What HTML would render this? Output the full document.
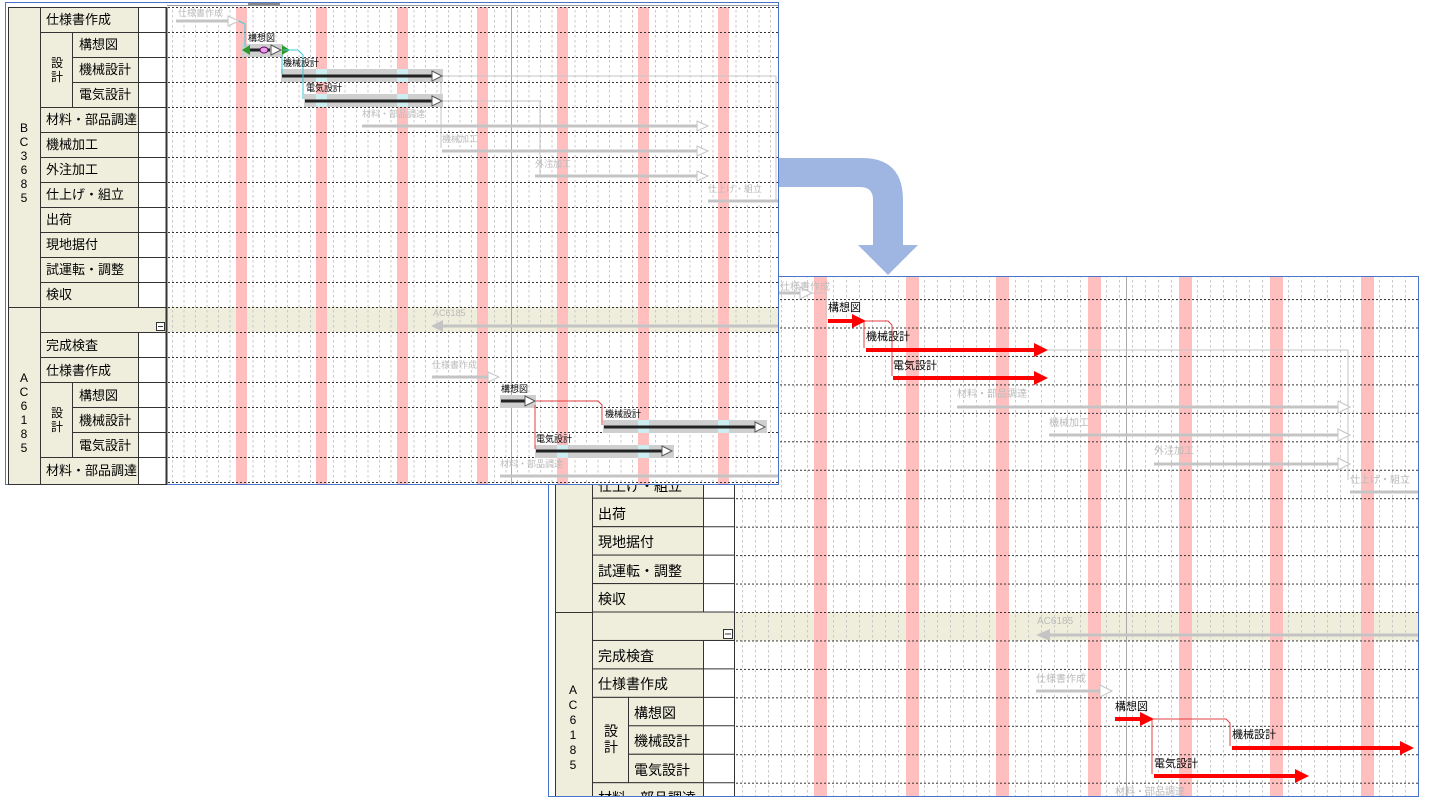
<!DOCTYPE html>
<html><head><meta charset="utf-8"><style>
html,body{margin:0;padding:0;background:#fff;width:1430px;height:805px;overflow:hidden}
svg{display:block}
text{font-family:"Liberation Sans","Noto Sans CJK JP",sans-serif}
</style></head><body>
<svg width="1430" height="805" viewBox="0 0 1430 805" xmlns="http://www.w3.org/2000/svg">
<defs>
<pattern id="lv" patternUnits="userSpaceOnUse" x="11" y="0" width="11.5" height="5"><line x1="0.5" y1="0" x2="0.5" y2="2.5" stroke="#c8c8c8" stroke-width="1"/></pattern>
<pattern id="lh" patternUnits="userSpaceOnUse" x="0" y="7" width="4" height="25"><line x1="0" y1="0.5" x2="2" y2="0.5" stroke="#333" stroke-width="1"/></pattern>
<pattern id="rv" patternUnits="userSpaceOnUse" x="1" y="0" width="13" height="5"><line x1="0.5" y1="0" x2="0.5" y2="2.5" stroke="#c8c8c8" stroke-width="1"/></pattern>
<pattern id="rh" patternUnits="userSpaceOnUse" x="0" y="270.6" width="4" height="28.45"><line x1="0" y1="0.5" x2="2" y2="0.5" stroke="#333" stroke-width="1"/></pattern>
<clipPath id="rc"><rect x="735" y="277" width="683" height="519"/></clipPath>
<clipPath id="rl"><rect x="549" y="277" width="186" height="519"/></clipPath>
<clipPath id="lc"><rect x="167" y="7" width="611" height="477"/></clipPath>
</defs>

<!-- ================= RIGHT PANEL ================= -->
<rect x="548.5" y="276.5" width="870" height="520" fill="#fff" stroke="#4a74c9"/>
<g clip-path="url(#rc)">
  <rect x="735" y="612" width="683" height="28.5" fill="#efeedd"/>
  <rect x="735" y="277" width="683" height="519" fill="url(#rv)"/>
  <g fill="#ffbfbf">
    <rect x="814" y="277" width="13" height="519"/><rect x="906" y="277" width="13" height="519"/>
    <rect x="996" y="277" width="13" height="519"/><rect x="1088" y="277" width="13" height="519"/>
    <rect x="1179" y="277" width="13" height="519"/><rect x="1270" y="277" width="13" height="519"/>
    <rect x="1361" y="277" width="13" height="519"/>
  </g>
  <line x1="1126.5" y1="277" x2="1126.5" y2="796" stroke="#aaa"/>
  <rect x="735" y="277" width="683" height="519" fill="url(#rh)"/>
  <g stroke="#c4c4c4" fill="none">
    <line x1="740" y1="293" x2="800" y2="293" stroke-width="3"/>
    <polyline points="812,293 826,293 826,318" stroke-width="1"/>
    <line x1="957" y1="407" x2="1338" y2="407" stroke-width="3"/>
    <line x1="1049" y1="435" x2="1338" y2="435" stroke-width="3"/>
    <line x1="1154" y1="464" x2="1338" y2="464" stroke-width="3"/>
    <line x1="1350" y1="492" x2="1418" y2="492" stroke-width="3"/>
    <polyline points="1047,350 1348,350 1348,480" stroke-width="1"/>
    <line x1="1050" y1="635" x2="1418" y2="635" stroke-width="3"/>
    <line x1="1036" y1="691" x2="1100" y2="691" stroke-width="3"/>
  </g>
  <g fill="#fff" stroke="#c4c4c4">
    <polygon points="800,287 812,293 800,299"/>
    <polygon points="1338,401 1350,407 1338,413"/>
    <polygon points="1338,429 1350,435 1338,441"/>
    <polygon points="1338,458 1350,464 1338,470"/>
    <polygon points="1100,685 1112,691 1100,697"/>
  </g>
  <polygon points="1050,629 1036,635 1050,641" fill="#c4c4c4"/>
  <g font-size="10" fill="#bbb">
    <text x="780" y="290">仕様書作成</text>
    <text x="957" y="397">材料・部品調達</text>
    <text x="1049" y="426">機械加工</text>
    <text x="1154" y="454">外注加工</text>
    <text x="1350" y="483">仕上げ・組立</text>
    <text x="1037" y="624">AC6185</text>
    <text x="1036" y="682">仕様書作成</text>
    <text x="1115" y="795">材料・部品調達</text>
  </g>
  <g stroke="#e04040" fill="none" stroke-width="1">
    <polyline points="852,321 888,321 892,325 892,376"/>
    <line x1="864" y1="321" x2="864" y2="348"/>
    <polyline points="1140,719 1226,719 1230,723 1230,746"/>
    <line x1="1152" y1="719" x2="1152" y2="774"/>
  </g>
  <g stroke="#ff0000" stroke-width="4">
    <line x1="828" y1="321" x2="853" y2="321"/>
    <line x1="866" y1="350" x2="1035" y2="350"/>
    <line x1="893" y1="378" x2="1035" y2="378"/>
    <line x1="1115" y1="719" x2="1141" y2="719"/>
    <line x1="1232" y1="748" x2="1401" y2="748"/>
    <line x1="1154" y1="776" x2="1296" y2="776"/>
  </g>
  <g fill="#ff0000">
    <polygon points="852,314 866,321 852,328"/>
    <polygon points="1034,343 1048,350 1034,357"/>
    <polygon points="1034,371 1048,378 1034,385"/>
    <polygon points="1140,712 1154,719 1140,726"/>
    <polygon points="1400,741 1414,748 1400,755"/>
    <polygon points="1295,769 1309,776 1295,783"/>
  </g>
  <g font-size="11" fill="#000">
    <text x="828" y="311">構想図</text>
    <text x="866" y="340">機械設計</text>
    <text x="893" y="369">電気設計</text>
    <text x="1115" y="710">構想図</text>
    <text x="1232" y="738">機械設計</text>
    <text x="1154" y="767">電気設計</text>
  </g>
</g>
<g clip-path="url(#rl)">
<g stroke="#333" stroke-width="1">
  <rect x="555.5" y="440" width="37" height="172.5" fill="#efeedd"/>
  <rect x="555.5" y="612.5" width="37" height="200" fill="#efeedd"/>
  <rect x="592.5" y="469.8" width="111" height="28.45" fill="#efeedd"/>
  <rect x="592.5" y="498.2" width="111" height="28.45" fill="#efeedd"/>
  <rect x="592.5" y="526.7" width="111" height="28.45" fill="#efeedd"/>
  <rect x="592.5" y="555.1" width="111" height="28.45" fill="#efeedd"/>
  <rect x="592.5" y="583.6" width="111" height="28.45" fill="#efeedd"/>
  <rect x="592.5" y="612.0" width="142" height="28.45" fill="#efeedd"/>
  <rect x="592.5" y="640.5" width="111" height="28.45" fill="#efeedd"/>
  <rect x="592.5" y="668.9" width="111" height="28.45" fill="#efeedd"/>
  <rect x="592.5" y="697.4" width="36" height="85.3" fill="#efeedd"/>
  <rect x="628.5" y="697.4" width="75" height="28.45" fill="#efeedd"/>
  <rect x="628.5" y="725.8" width="75" height="28.45" fill="#efeedd"/>
  <rect x="628.5" y="754.3" width="75" height="28.45" fill="#efeedd"/>
  <rect x="592.5" y="782.7" width="111" height="28.45" fill="#efeedd"/>
  <rect x="703.5" y="469.8" width="31" height="142.2" fill="#fff"/>
  <rect x="703.5" y="640.5" width="31" height="170" fill="#fff"/>
  <line x1="703.5" y1="498.2" x2="734.5" y2="498.2"/><line x1="703.5" y1="526.7" x2="734.5" y2="526.7"/>
  <line x1="703.5" y1="555.1" x2="734.5" y2="555.1"/><line x1="703.5" y1="583.6" x2="734.5" y2="583.6"/>
  <line x1="703.5" y1="668.9" x2="734.5" y2="668.9"/><line x1="703.5" y1="697.4" x2="734.5" y2="697.4"/>
  <line x1="703.5" y1="725.8" x2="734.5" y2="725.8"/><line x1="703.5" y1="754.3" x2="734.5" y2="754.3"/>
  <line x1="703.5" y1="782.7" x2="734.5" y2="782.7"/>
</g>
<rect x="723.5" y="629.5" width="9" height="9" fill="#fff" stroke="#333"/>
<line x1="725" y1="634" x2="731" y2="634" stroke="#333"/>
<g font-size="14" fill="#000">
  <text x="598" y="491">仕上げ・組立</text>
  <text x="598" y="519">出荷</text>
  <text x="598" y="547">現地据付</text>
  <text x="598" y="576">試運転・調整</text>
  <text x="598" y="604">検収</text>
  <text x="598" y="661">完成検査</text>
  <text x="598" y="689">仕様書作成</text>
  <text x="634" y="718">構想図</text>
  <text x="634" y="746">機械設計</text>
  <text x="634" y="775">電気設計</text>
  <text x="598" y="803">材料・部品調達</text>
  <text x="604" y="736">設</text><text x="604" y="752">計</text>
</g>
<g font-size="12" fill="#000" text-anchor="middle">
  <text x="573" y="694">A</text><text x="573" y="709">C</text><text x="573" y="724">6</text>
  <text x="573" y="739">1</text><text x="573" y="754">8</text><text x="573" y="769">5</text>
</g>
</g>
<line x1="548" y1="796.5" x2="1419" y2="796.5" stroke="#4a74c9"/>

<!-- ================= BLUE ARROW ================= -->
<path d="M779,158 L862,158 Q903,158 903,200 L903,245 L918,245 L888,275 L858,245 L873,245 L873,200 Q873,187 860,187 L779,187 Z" fill="#9fb6e2"/>

<!-- ================= LEFT PANEL ================= -->
<rect x="5.5" y="2.5" width="773" height="482" fill="#fff" stroke="#4a74c9"/>
<line x1="167" y1="5.5" x2="778" y2="5.5" stroke="#999"/>
<rect x="248" y="3" width="32" height="3" fill="#888"/>
<g clip-path="url(#lc)">
  <rect x="167" y="307" width="611" height="25" fill="#efeedd"/>
  <rect x="167" y="7" width="611" height="477" fill="url(#lv)"/>
  <g fill="#ffbfbf">
    <rect x="236" y="7" width="11" height="477"/><rect x="316" y="7" width="11" height="477"/>
    <rect x="397" y="7" width="11" height="477"/><rect x="477" y="7" width="11" height="477"/>
    <rect x="557" y="7" width="11" height="477"/><rect x="638" y="7" width="11" height="477"/>
    <rect x="718" y="7" width="11" height="477"/>
  </g>
  <line x1="511.5" y1="7" x2="511.5" y2="484" stroke="#aaa"/>
  <rect x="167" y="7" width="611" height="477" fill="url(#lh)"/>
  <g stroke="#c4c4c4" fill="none">
    <line x1="176" y1="21" x2="228" y2="21" stroke-width="3"/>
    <line x1="362" y1="126" x2="698" y2="126" stroke-width="3"/>
    <line x1="442" y1="151" x2="698" y2="151" stroke-width="3"/>
    <line x1="535" y1="176" x2="698" y2="176" stroke-width="3"/>
    <line x1="708" y1="201" x2="778" y2="201" stroke-width="3"/>
    <polyline points="441,76 776,76 776,200" stroke-width="1"/>
    <polyline points="441,101 540,101 540,175" stroke-width="1"/>
    <line x1="442" y1="326" x2="778" y2="326" stroke-width="3"/>
    <line x1="432" y1="377" x2="488" y2="377" stroke-width="3"/>
    <line x1="500" y1="476" x2="778" y2="476" stroke-width="3"/>
    <polyline points="441,82 441,148" stroke-width="1"/>
  </g>
  <g fill="#fff" stroke="#c4c4c4">
    <polygon points="228,16 239,21 228,26"/>
    <polygon points="697,121 708,126 697,131"/>
    <polygon points="697,146 708,151 697,156"/>
    <polygon points="697,171 708,176 697,181"/>
    <polygon points="488,372 499,377 488,382"/>
  </g>
  <polygon points="443,320 431,326 443,332" fill="#c4c4c4"/>
  <g font-size="9" fill="#bbb">
    <text x="178" y="16">仕様書作成</text>
    <text x="362" y="117">材料・部品調達</text>
    <text x="442" y="142">機械加工</text>
    <text x="535" y="167">外注加工</text>
    <text x="708" y="192">仕上げ・組立</text>
    <text x="433" y="316">AC6185</text>
    <text x="432" y="368">仕様書作成</text>
    <text x="500" y="467">材料・部品調達</text>
  </g>
  <g fill="#cfcfcf">
    <rect x="241" y="44" width="42" height="13"/>
    <rect x="281" y="69" width="162" height="13"/>
    <rect x="304" y="94" width="139" height="13"/>
    <rect x="500" y="395" width="36" height="13"/>
    <rect x="603" y="420" width="164" height="13"/>
    <rect x="535" y="445" width="139" height="13"/>
  </g>
  <g fill="#cdeef0">
    <rect x="316" y="69" width="11" height="13"/><rect x="397" y="69" width="11" height="13"/>
    <rect x="316" y="94" width="11" height="13"/><rect x="397" y="94" width="11" height="13"/>
    <rect x="638" y="420" width="11" height="13"/><rect x="718" y="420" width="11" height="13"/>
    <rect x="557" y="445" width="11" height="13"/><rect x="638" y="445" width="11" height="13"/>
  </g>
  <g stroke="#222" stroke-width="3">
    <line x1="246" y1="50" x2="270" y2="50"/>
    <line x1="282" y1="76" x2="432" y2="76"/>
    <line x1="305" y1="101" x2="432" y2="101"/>
    <line x1="501" y1="401" x2="525" y2="401"/>
    <line x1="604" y1="427" x2="755" y2="427"/>
    <line x1="536" y1="451" x2="662" y2="451"/>
  </g>
  <g fill="#fff" stroke="#555">
    <polygon points="271,45 281,50 271,55"/>
    <polygon points="432,71 442,76 432,81"/>
    <polygon points="432,96 442,101 432,106"/>
    <polygon points="525,396 535,401 525,406"/>
    <polygon points="755,422 765,427 755,432"/>
    <polygon points="662,446 672,451 662,456"/>
  </g>
  <ellipse cx="264" cy="50" rx="4" ry="3" fill="#e8a0e8" stroke="#606"/>
  <polygon points="242,50 250,45 250,55" fill="#2a9a2a"/>
  <polygon points="290,50 282,45 282,55" fill="#2a9a2a"/>
  <g stroke="#3cc8d8" fill="none">
    <polyline points="239,21 245,24 245,47"/>
    <polyline points="283,50 298,50 303,55 303,99"/>
    <line x1="282" y1="55" x2="282" y2="74"/>
  </g>
  <g stroke="#e04040" fill="none">
    <polyline points="535,401 598,401 602,405 602,425"/>
    <line x1="535" y1="405" x2="535" y2="449"/>
  </g>
  <g font-size="9" fill="#000">
    <text x="248" y="41">構想図</text>
    <text x="283" y="66">機械設計</text>
    <text x="306" y="91">電気設計</text>
    <text x="501" y="392">構想図</text>
    <text x="605" y="417">機械設計</text>
    <text x="536" y="442">電気設計</text>
  </g>
</g>
<g stroke="#333" stroke-width="1">
  <rect x="8.5" y="7.5" width="32" height="300" fill="#efeedd"/>
  <rect x="8.5" y="307.5" width="32" height="177" fill="#efeedd"/>
  <rect x="40.5" y="7.5" width="98" height="25" fill="#efeedd"/>
  <rect x="40.5" y="32.5" width="32" height="75" fill="#efeedd"/>
  <rect x="72.5" y="32.5" width="66" height="25" fill="#efeedd"/>
  <rect x="72.5" y="57.5" width="66" height="25" fill="#efeedd"/>
  <rect x="72.5" y="82.5" width="66" height="25" fill="#efeedd"/>
  <rect x="40.5" y="107.5" width="98" height="25" fill="#efeedd"/>
  <rect x="40.5" y="132.5" width="98" height="25" fill="#efeedd"/>
  <rect x="40.5" y="157.5" width="98" height="25" fill="#efeedd"/>
  <rect x="40.5" y="182.5" width="98" height="25" fill="#efeedd"/>
  <rect x="40.5" y="207.5" width="98" height="25" fill="#efeedd"/>
  <rect x="40.5" y="232.5" width="98" height="25" fill="#efeedd"/>
  <rect x="40.5" y="257.5" width="98" height="25" fill="#efeedd"/>
  <rect x="40.5" y="282.5" width="98" height="25" fill="#efeedd"/>
  <rect x="40.5" y="307.5" width="126" height="25" fill="#efeedd"/>
  <rect x="40.5" y="332.5" width="98" height="25" fill="#efeedd"/>
  <rect x="40.5" y="357.5" width="98" height="25" fill="#efeedd"/>
  <rect x="40.5" y="382.5" width="32" height="75" fill="#efeedd"/>
  <rect x="72.5" y="382.5" width="66" height="25" fill="#efeedd"/>
  <rect x="72.5" y="407.5" width="66" height="25" fill="#efeedd"/>
  <rect x="72.5" y="432.5" width="66" height="25" fill="#efeedd"/>
  <rect x="40.5" y="457.5" width="98" height="27" fill="#efeedd"/>
  <rect x="138.5" y="7.5" width="28" height="300" fill="#fff"/>
  <rect x="138.5" y="332.5" width="28" height="152" fill="#fff"/>
  <line x1="138.5" y1="32.5" x2="166.5" y2="32.5"/><line x1="138.5" y1="57.5" x2="166.5" y2="57.5"/>
  <line x1="138.5" y1="82.5" x2="166.5" y2="82.5"/><line x1="138.5" y1="107.5" x2="166.5" y2="107.5"/>
  <line x1="138.5" y1="132.5" x2="166.5" y2="132.5"/><line x1="138.5" y1="157.5" x2="166.5" y2="157.5"/>
  <line x1="138.5" y1="182.5" x2="166.5" y2="182.5"/><line x1="138.5" y1="207.5" x2="166.5" y2="207.5"/>
  <line x1="138.5" y1="232.5" x2="166.5" y2="232.5"/><line x1="138.5" y1="257.5" x2="166.5" y2="257.5"/>
  <line x1="138.5" y1="282.5" x2="166.5" y2="282.5"/>
  <line x1="138.5" y1="357.5" x2="166.5" y2="357.5"/><line x1="138.5" y1="382.5" x2="166.5" y2="382.5"/>
  <line x1="138.5" y1="407.5" x2="166.5" y2="407.5"/><line x1="138.5" y1="432.5" x2="166.5" y2="432.5"/>
  <line x1="138.5" y1="457.5" x2="166.5" y2="457.5"/>
  <line x1="166.5" y1="7" x2="166.5" y2="484" stroke-width="2"/>
</g>
<rect x="156.5" y="322.5" width="8" height="8" fill="#fff" stroke="#333"/>
<line x1="158" y1="326.5" x2="163" y2="326.5" stroke="#333"/>
<g font-size="13" fill="#000">
  <text x="46" y="24">仕様書作成</text>
  <text x="79" y="49">構想図</text>
  <text x="79" y="74">機械設計</text>
  <text x="79" y="99">電気設計</text>
  <text x="46" y="124">材料・部品調達</text>
  <text x="46" y="149">機械加工</text>
  <text x="46" y="174">外注加工</text>
  <text x="46" y="199">仕上げ・組立</text>
  <text x="46" y="224">出荷</text>
  <text x="46" y="249">現地据付</text>
  <text x="46" y="274">試運転・調整</text>
  <text x="46" y="299">検収</text>
  <text x="46" y="350">完成検査</text>
  <text x="46" y="375">仕様書作成</text>
  <text x="79" y="400">構想図</text>
  <text x="79" y="425">機械設計</text>
  <text x="79" y="450">電気設計</text>
  <text x="46" y="475">材料・部品調達</text>
</g>
<g font-size="12" fill="#000">
  <text x="51" y="67">設</text><text x="51" y="81">計</text>
  <text x="51" y="417">設</text><text x="51" y="431">計</text>
</g>
<g font-size="12" fill="#000" text-anchor="middle">
  <text x="24" y="132">B</text><text x="24" y="146">C</text><text x="24" y="160">3</text>
  <text x="24" y="174">6</text><text x="24" y="188">8</text><text x="24" y="202">5</text>
  <text x="24" y="382">A</text><text x="24" y="396">C</text><text x="24" y="410">6</text>
  <text x="24" y="424">1</text><text x="24" y="438">8</text><text x="24" y="452">5</text>
</g>
</svg>
</body></html>
